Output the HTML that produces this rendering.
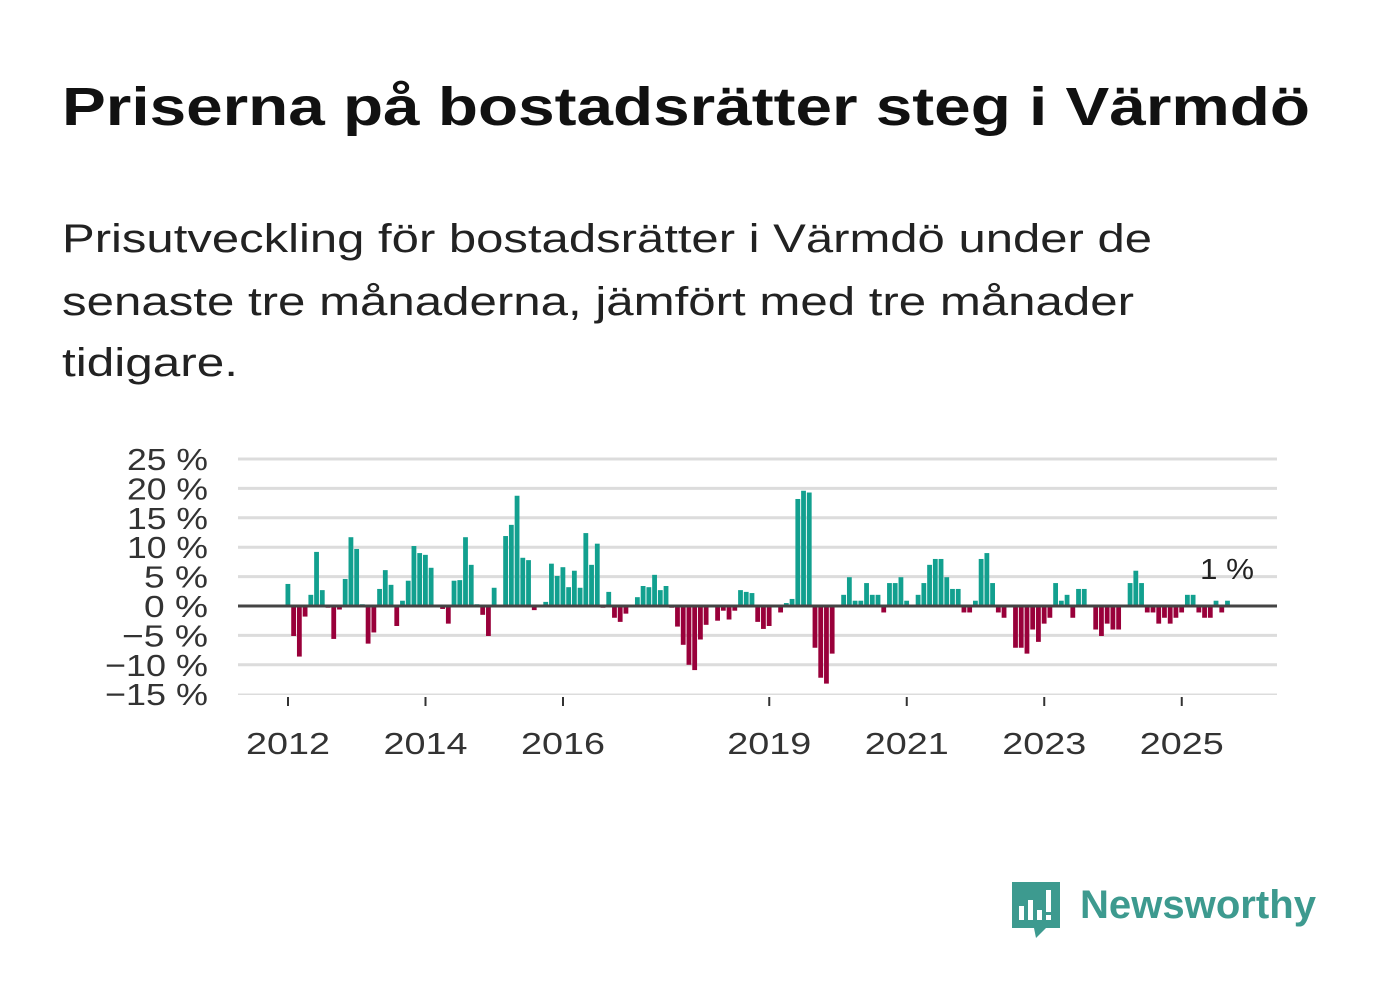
<!DOCTYPE html>
<html><head><meta charset="utf-8"><style>
html,body{margin:0;padding:0;background:#fff;}
svg{display:block;font-family:"Liberation Sans","DejaVu Sans",sans-serif;}
</style></head><body>
<svg id="chart" width="1382" height="999" viewBox="0 0 1382 999">
<text x="62" y="125" font-size="54" font-weight="bold" fill="#111" textLength="1248" lengthAdjust="spacingAndGlyphs">Priserna på bostadsrätter steg i Värmdö</text>
<g font-size="40" fill="#222">
<text x="62" y="252" textLength="1090" lengthAdjust="spacingAndGlyphs">Prisutveckling för bostadsrätter i Värmdö under de</text>
<text x="62" y="315" textLength="1072" lengthAdjust="spacingAndGlyphs">senaste tre månaderna, jämfört med tre månader</text>
<text x="62" y="376" textLength="176" lengthAdjust="spacingAndGlyphs">tidigare.</text>
</g>
<g id="grid"></g>
<g id="ylabels"></g>
<g id="bars"></g>
<g id="xaxis"></g>
<text x="1227" y="579" font-size="29" fill="#222" text-anchor="middle" textLength="54" lengthAdjust="spacingAndGlyphs">1 %</text>
<g>
<path d="M1012 882 h48 v46 h-14 l-10 10 l-2 -10 h-22 z" fill="#3d9a8f"/>
<rect x="1019" y="906" width="5" height="14" fill="#fff"/>
<rect x="1028" y="900" width="5" height="20" fill="#fff"/>
<rect x="1037" y="910" width="5" height="10" fill="#fff"/>
<rect x="1046" y="890" width="5" height="22" fill="#fff"/>
<rect x="1046" y="915" width="5" height="5" fill="#fff"/>
<text x="1080" y="918" font-size="40" font-weight="bold" fill="#3d9a8f" textLength="236" lengthAdjust="spacingAndGlyphs">Newsworthy</text>
</g>
</svg>
<script>
const values = [3.75,-5.1,-8.6,-1.8,1.9,9.2,2.7,-0.3,-5.6,-0.6,4.6,11.7,9.7,0.3,-6.4,-4.5,2.9,6.1,3.6,-3.4,0.9,4.3,10.2,9.0,8.7,6.5,0,-0.5,-3.0,4.3,4.4,11.7,7.0,0.3,-1.5,-5.1,3.1,0,11.9,13.8,18.75,8.2,7.8,-0.7,0,0.7,7.2,5.1,6.6,3.2,6.0,3.1,12.4,7.0,10.6,-0.3,2.4,
-2.0,-2.7,-1.3,0,1.5,3.4,3.2,5.3,2.7,3.4,-0.3,-3.5,-6.6,-10.0,-10.9,-5.7,-3.2,0,-2.5,-0.8,-2.3,-0.8,2.7,2.4,2.2,-2.7,-3.9,-3.4,0,-1.1,0.5,1.2,18.2,19.6,19.3,-7.1,-12.2,-13.2,-8.1,0,1.9,4.9,0.9,0.9,3.9,1.9,1.9,-1.1,3.9,3.9,4.9,0.9,0,1.9,3.9,7.0,
8.0,8.0,4.9,2.9,2.9,-1.1,-1.1,0.9,8.0,9.0,3.9,-1.1,-2.0,0,-7.1,-7.1,-8.1,-4.0,-6.1,-3.0,-2.0,3.9,0.9,1.9,-2.0,2.9,2.9,0,-4.0,-5.1,-3.0,-4.0,-4.0,0,3.9,6.0,3.9,-1.1,-1.1,-3.0,-2.0,-3.0,-2.0,-1.1,1.9,1.9,-1.1,-2.0,-2.0,0.9,-1.1,0.9];
const startYear = 2012;
const yTicks = [25,20,15,10,5,0,-5,-10,-15];
const yTickLabels = ["25 %","20 %","15 %","10 %","5 %","0 %","−5 %","−10 %","−15 %"];
const xTickYears = [2012,2014,2016,2019,2021,2023,2025];

const NS="http://www.w3.org/2000/svg";
const y0=606, pxPer=5.88;
function yScale(v){return y0 - v*pxPer;}
const monthPx = 68.75/12;
function xScale(monthIndex){return 288 + monthIndex*monthPx;}
function mk(tag,attrs,parent){const e=document.createElementNS(NS,tag);for(const k in attrs)e.setAttribute(k,attrs[k]);parent.appendChild(e);return e;}

const grid=document.getElementById('grid'), yl=document.getElementById('ylabels');
yTicks.forEach((t,i)=>{
  if(t!==0){
    const l=mk('line',{x1:238,x2:1277,y1:yScale(t),y2:yScale(t),stroke:'#dcdcdc','stroke-width':t===-15?1.5:3},grid);
    
    
  }
  const lab=yTickLabels[i];
  const digits=(lab.match(/[0-9]/g)||[]).length;
  const w=47+17*digits+(lab[0]==='−'?22:0);
  const tx=mk('text',{x:208,y:yScale(t)+11,'font-size':31,fill:'#333','text-anchor':'end',textLength:w,lengthAdjust:'spacingAndGlyphs'},yl);
  tx.textContent=lab;
  
  
});
const bars=document.getElementById('bars');
values.forEach((v,i)=>{
  const x=xScale(i)-2.5;
  const r=mk('rect',{x:x,width:4.8,y:v>=0?yScale(v):y0,height:Math.abs(v)*pxPer,fill:v>=0?'#12a08f':'#99003a'},bars);
  
  
});
const zl=mk('line',{x1:238,x2:1277,y1:y0,y2:y0,stroke:'#444','stroke-width':3},bars);


const xa=document.getElementById('xaxis');
xTickYears.forEach(yr=>{
  const x=xScale((yr-startYear)*12);
  const tk=mk('line',{x1:x,x2:x,y1:697,y2:706,stroke:'#333','stroke-width':2},xa);
  
  
  const tx=mk('text',{x:x,y:754,'font-size':31,fill:'#333','text-anchor':'middle',textLength:84,lengthAdjust:'spacingAndGlyphs'},xa);
  tx.textContent=yr;
  
  
});
</script>
</body></html>
